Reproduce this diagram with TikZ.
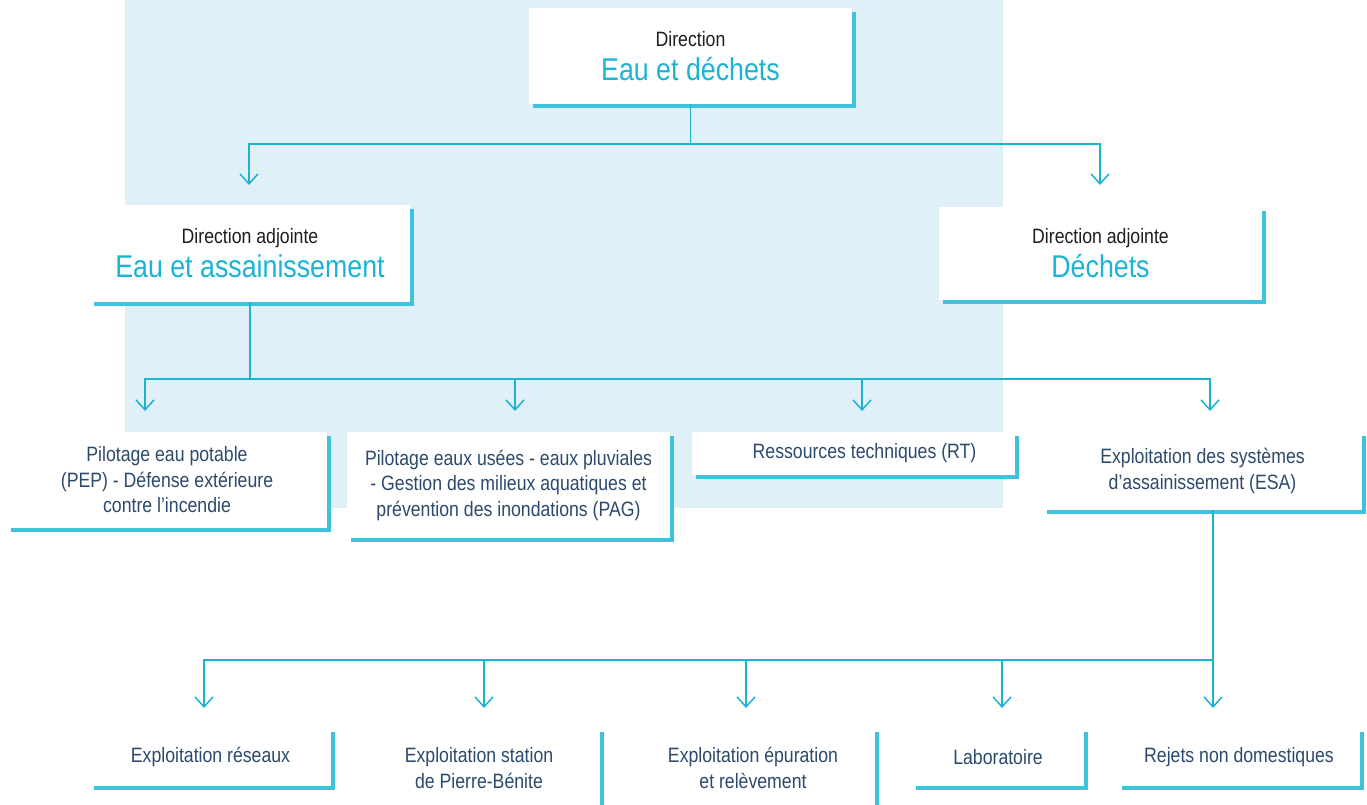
\documentclass[tikz,border=0pt]{standalone}
\usepackage{fontspec}
\setmainfont{Liberation Sans}[FakeStretch=0.85]
\usetikzlibrary{shadows,arrows.meta}

\definecolor{bgblue}{HTML}{E0F0F8}
\definecolor{linecyan}{HTML}{1CB2D2}
\definecolor{shadowcyan}{HTML}{3FC3DD}
\definecolor{titlecyan}{HTML}{1AB4D6}
\definecolor{textnavy}{HTML}{2C4A6C}
\definecolor{textdark}{HTML}{1E1E1E}
\newcommand{\titletext}[1]{{\color{titlecyan}\fontsize{31.5}{34}\selectfont #1}}

\begin{document}
\begin{tikzpicture}[x=1pt,y=-1pt,
    box/.style ={rectangle, fill=white, inner sep=0pt, align=center,
        drop shadow={shadow xshift=4pt, shadow yshift=-4pt, fill=shadowcyan, opacity=1}},
    head/.style ={box, text=textdark, font=\fontsize{20.8}{34}\selectfont},
    unit/.style ={box, text=textnavy, font=\fontsize{20.8}{25.5}\selectfont},
    link/.style ={draw=linecyan, line width=1.5pt},
    arrowlink/.style ={link, -{Straight Barb[length=10pt, width=18pt]}}]
   \useasboundingbox (0,0) rectangle (1367,804);
   \fill[bgblue] (125,0) rectangle (1003,508);

   \node[head, minimum width=323, minimum height=96] (top) at (690.5,56) {Direction\\\titletext{Eau et déchets}};
   \node[head, minimum width=320, minimum height=97] (eaa) at (250,253.5) {Direction adjointe\\\titletext{Eau et assainissement}};
   \node[head, minimum width=323, minimum height=93] (dec) at (1100.5,253.5) {Direction adjointe\\\titletext{Déchets}};

   \node[unit, minimum width=320, minimum height=96] (pep) at (167,480) {Pilotage eau potable\\(PEP) - Défense extérieure\\contre l’incendie};
   \node[unit, minimum width=323, minimum height=106] (pag) at (508.5,485) {Pilotage eaux usées - eaux pluviales\\- Gestion des milieux aquatiques et\\prévention des inondations (PAG)};
   \node[unit, minimum width=323, minimum height=43] (rt) at (853.5,453.5) {\hspace*{22pt}Ressources techniques (RT)};
   \node[unit, minimum width=319, minimum height=78] (esa) at (1202.5,471) {Exploitation des systèmes\\d’assainissement (ESA)};

   \node[unit, minimum width=241, minimum height=58] (res) at (210.5,757) {Exploitation réseaux};
   \node[unit, minimum width=242, minimum height=80] (pb) at (479,768) {Exploitation station\\de Pierre-Bénite};
   \node[unit, minimum width=244, minimum height=80] (epu) at (753,768) {Exploitation épuration\\et relèvement};
   \node[unit, minimum width=172, minimum height=58] (lab) at (998,757) {Laboratoire};
   \node[unit, minimum width=242, minimum height=58] (rej) at (1239,757) {Rejets non domestiques};

   \coordinate (t1) at (249,185);
   \coordinate (t2) at (1100,185);
   \coordinate (b1) at (145,411);
   \coordinate (b2) at (515,411);
   \coordinate (b3) at (862,411);
   \coordinate (b4) at (1210,411);
   \coordinate (c1) at (204,708);
   \coordinate (c2) at (484,708);
   \coordinate (c3) at (746,708);
   \coordinate (c4) at (1002,708);
   \coordinate (c5) at (1213,708);

   \draw[arrowlink] (top.south) -- ++(0,40) -| (t1);
   \draw[arrowlink] (top.south) -- ++(0,40) -| (t2);

   \draw[arrowlink] (eaa.south) -- ++(0,77) -| (b1);
   \draw[arrowlink] (eaa.south) -- ++(0,77) -| (b2);
   \draw[arrowlink] (eaa.south) -- ++(0,77) -| (b3);
   \draw[arrowlink] (eaa.south) -- ++(0,77) -| (b4);

   \draw[arrowlink] ([xshift=10.5pt]esa.south) -- ++(0,150) -| (c1);
   \draw[arrowlink] ([xshift=10.5pt]esa.south) -- ++(0,150) -| (c2);
   \draw[arrowlink] ([xshift=10.5pt]esa.south) -- ++(0,150) -| (c3);
   \draw[arrowlink] ([xshift=10.5pt]esa.south) -- ++(0,150) -| (c4);
   \draw[arrowlink] ([xshift=10.5pt]esa.south) -- ++(0,150) -| (c5);
 \end{tikzpicture}
\end{document}
